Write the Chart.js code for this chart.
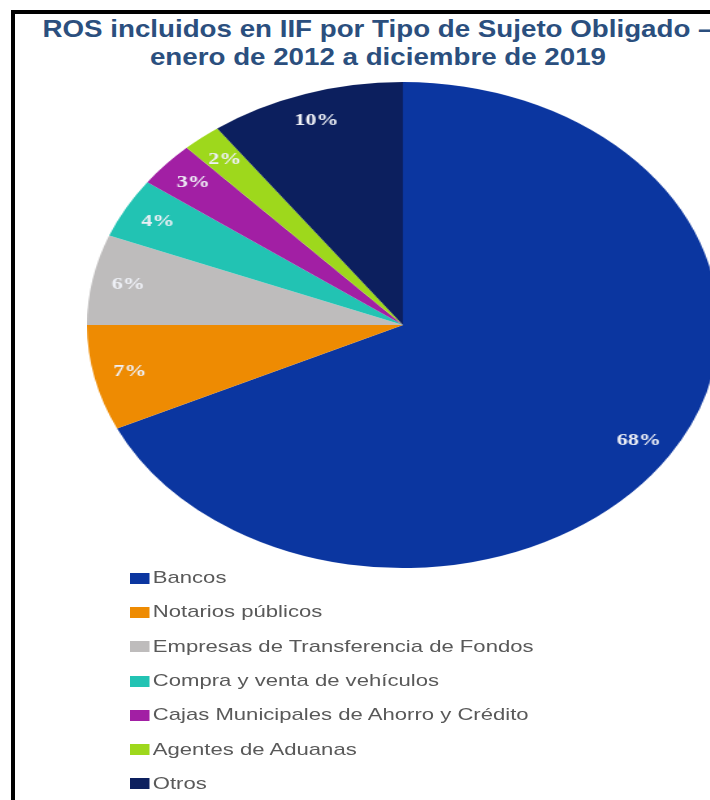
<!DOCTYPE html>
<html>
<head>
<meta charset="utf-8">
<script src="https://cdn.jsdelivr.net/npm/chart.js@4/dist/chart.umd.min.js"></script>
<style>
  html, body { margin: 0; padding: 0; background: #fff; }
  body { width: 710px; height: 800px; position: relative; overflow: hidden; }
  #frame {
    position: absolute; left: 11px; top: 10px; width: 720px; height: 800px;
    border-left: 4px solid #000; border-top: 4px solid #000;
  }
  #title {
    position: absolute; left: 0; top: 15px; width: 756px;
    text-align: center; font: bold 24px "Liberation Sans", Arial, sans-serif;
    line-height: 28px; color: #2b4f7e; white-space: nowrap;
    transform: scaleX(1.155); transform-origin: 378px 0;
  }
  #pieBox {
    position: absolute; left: 87px; top: 82px; width: 486px; height: 486px;
    transform: scaleX(1.3); transform-origin: 0 0;
  }
  #legend {
    position: absolute; left: 130px; top: 561px; margin: 0; padding: 0;
    list-style: none; transform: scaleX(1.3); transform-origin: 0 0;
    font: 17px "Liberation Sans", Arial, sans-serif; color: #595959;
  }
  #legend li { display: flex; align-items: center; height: 34.3px; white-space: nowrap; }
  #legend .sw { width: 15px; height: 11px; margin-right: 2.5px; flex: none; }
</style>
</head>
<body>
<div id="frame"></div>
<div id="title">ROS incluidos en IIF por Tipo de Sujeto Obligado –<br>enero de 2012 a diciembre de 2019</div>
<div id="pieBox"><canvas id="pie"></canvas></div>
<ul id="legend"></ul>
<script>
// Tipos de sujeto obligado y su participación (%) en los ROS incluidos en IIF
const categories = [
  'Bancos',
  'Notarios públicos',
  'Empresas de Transferencia de Fondos',
  'Compra y venta de vehículos',
  'Cajas Municipales de Ahorro y Crédito',
  'Agentes de Aduanas',
  'Otros'
];
const shares = [68, 7, 6, 4, 3, 2, 10];
const colors = ['#0b36a0', '#ee8b02', '#bebcbc', '#22c3b3', '#a21fa4', '#9ed81c', '#0c1f5e'];

// Porcentajes dentro de cada sector, cerca del borde exterior
const sliceLabels = {
  id: 'sliceLabels',
  afterDatasetsDraw(chart) {
    const ctx = chart.ctx;
    const meta = chart.getDatasetMeta(0);
    ctx.save();
    ctx.font = 'bold 17px "Liberation Serif", "DejaVu Serif", serif';
    ctx.fillStyle = '#eef0f6';
    ctx.textAlign = 'center';
    ctx.textBaseline = 'middle';
    meta.data.forEach((arc, i) => {
      const p = arc.getProps(['x', 'y', 'startAngle', 'endAngle', 'outerRadius'], true);
      const mid = (p.startAngle + p.endAngle) / 2;
      const r = p.outerRadius * 0.885;
      ctx.fillText(shares[i] + '%', p.x + Math.cos(mid) * r, p.y + Math.sin(mid) * r);
    });
    ctx.restore();
  }
};

const chart = new Chart(document.getElementById('pie'), {
  type: 'pie',
  data: {
    labels: categories,
    datasets: [{
      data: shares,
      backgroundColor: colors,
      borderWidth: 0
    }]
  },
  options: {
    responsive: true,
    maintainAspectRatio: false,
    animation: false,
    layout: { padding: 0 },
    plugins: {
      legend: { display: false },
      title: { display: false },
      tooltip: { enabled: false }
    }
  },
  plugins: [sliceLabels]
});

// Leyenda en lista vertical generada a partir del gráfico
const legendEl = document.getElementById('legend');
chart.options.plugins.legend.labels.generateLabels(chart).forEach(item => {
  const li = document.createElement('li');
  const sw = document.createElement('span');
  sw.className = 'sw';
  sw.style.background = item.fillStyle;
  li.appendChild(sw);
  li.appendChild(document.createTextNode(item.text));
  legendEl.appendChild(li);
});
</script>
</body>
</html>
